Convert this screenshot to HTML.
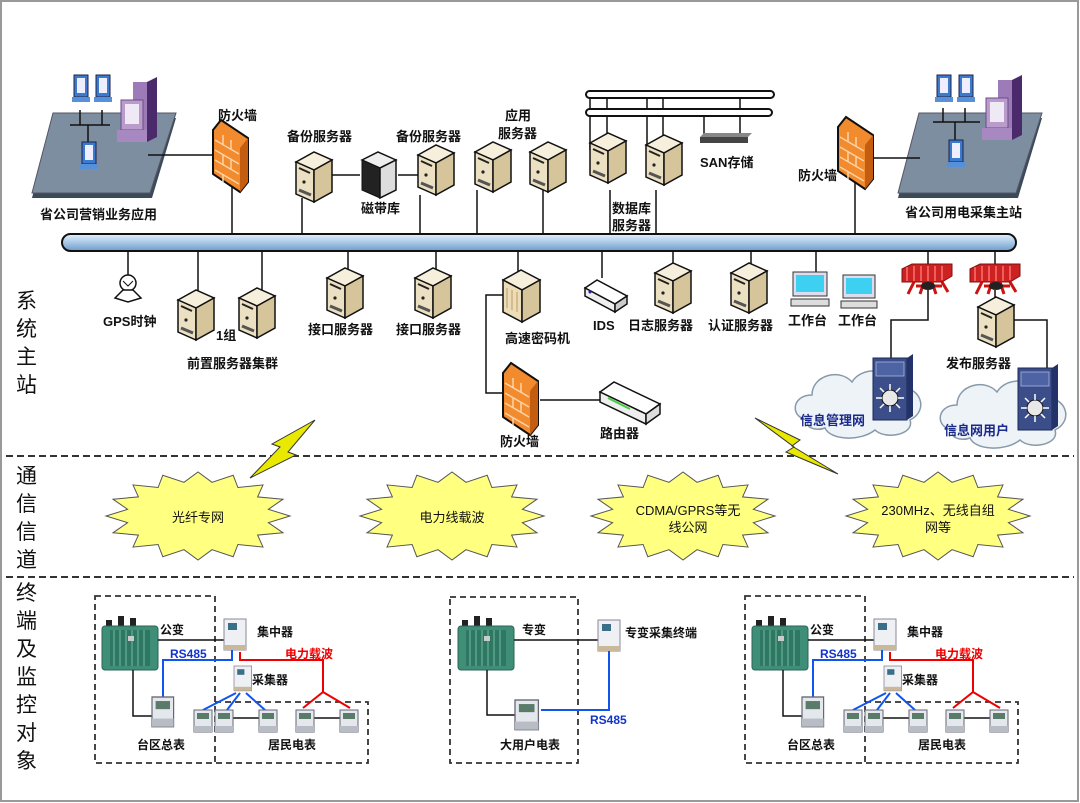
<!DOCTYPE html>
<html><head><meta charset="utf-8"><style>
html,body{margin:0;padding:0;background:#fff}
svg{display:block}
text{font-family:"Liberation Sans","Noto Sans CJK SC",sans-serif;font-size:13px;fill:#111}
.b{font-weight:bold}
.side{font-size:21px}
</style></head><body>
<svg width="1080" height="803" viewBox="0 0 1080 803" xmlns="http://www.w3.org/2000/svg">
<defs>
<linearGradient id="bus" x1="0" y1="0" x2="0" y2="1"><stop offset="0" stop-color="#e6f1fb"/><stop offset=".5" stop-color="#a8c8e8"/><stop offset="1" stop-color="#6f9cc8"/></linearGradient>
<polygon id="star" fill="#ffff80" stroke="#555" stroke-width="1" points="92,0 70.4,6.7 85,16.8 59.6,19.1 65,31.1 39.9,28.5 35.2,40.7 14,33.7 0,44 -14,33.7 -35.2,40.7 -39.9,28.5 -65,31.1 -59.6,19.1 -85,16.8 -70.4,6.7 -92,0 -70.4,-6.7 -85,-16.8 -59.6,-19.1 -65,-31.1 -39.9,-28.5 -35.2,-40.7 -14,-33.7 0,-44 14,-33.7 35.2,-40.7 39.9,-28.5 65,-31.1 59.6,-19.1 85,-16.8 70.4,-6.7"/>
<g id="srv">
<polygon points="0,10 18,0 36,8 18,18" fill="#f6efdc" stroke="#111" stroke-width="1.5"/>
<polygon points="0,10 18,18 18,50 0,42" fill="#ece0c2" stroke="#111" stroke-width="1.5"/>
<polygon points="18,18 36,8 36,40 18,50" fill="#d6c49a" stroke="#111" stroke-width="1.5"/>
<line x1="3" y1="16" x2="14" y2="21" stroke="#222" stroke-width="2"/>
<circle cx="8" cy="30" r="1.6" fill="#222"/>
<line x1="3" y1="38" x2="15" y2="43" stroke="#555" stroke-width="3"/>
</g>
<g id="fw">
<polygon points="0,10 8,0 35,18 35,62 27,72 0,54" fill="#f28a2e" stroke="#111" stroke-width="2"/>
<polygon points="27,28 35,18 35,62 27,72" fill="#c55d10"/>
<path d="M2,20 L26,34 M2,30 L26,44 M2,40 L26,54 M2,50 L26,64 M10,15 L10,25 M18,20 L18,30 M10,35 L10,45 M18,40 L18,50 M10,55 L10,62" stroke="#fcd3a6" stroke-width="1.5" fill="none"/>
</g>
<g id="meter">
<rect x="0" y="0" width="18" height="22" fill="#e4e8ec" stroke="#667" stroke-width="1"/>
<rect x="3" y="3" width="12" height="6" fill="#5a7a6a"/>
<rect x="0" y="16" width="18" height="6" fill="#b8bcc4"/>
</g>
<g id="trans">
<rect x="4" y="8" width="6" height="8" fill="#222"/><rect x="16" y="4" width="6" height="12" fill="#222"/><rect x="28" y="6" width="6" height="10" fill="#222"/>
<rect x="0" y="14" width="56" height="44" rx="3" fill="#3f8f78" stroke="#2b6655"/>
<rect x="8" y="18" width="40" height="36" fill="#2f7663"/>
<path d="M12,18v36M18,18v36M24,18v36M30,18v36M36,18v36M42,18v36" stroke="#5aa58c" stroke-width="1.5"/>
<rect x="26" y="24" width="6" height="5" fill="#ccc"/>
</g>
<g id="conc">
<rect x="0" y="0" width="22" height="31" fill="#eef0f3" stroke="#889"/>
<rect x="4" y="4" width="9" height="7" fill="#3a6f8a"/>
<rect x="0" y="26" width="22" height="5" fill="#c9b89a"/>
</g>
<g id="pf">
<polygon points="21,5 144,5 120,85 0,85" fill="#3b4a58"/>
<polygon points="21,0 144,0 118,80 0,80" fill="#7c8ea0" stroke="#556" stroke-width="1"/>
</g>
<g id="pc">
<rect x="0" y="0" width="14" height="22" fill="#3a7bd0" stroke="#224"/>
<rect x="3" y="3" width="8" height="15" fill="#eef"/>
<rect x="-2" y="22" width="18" height="5" fill="#5590d8"/>
</g>
<g id="tower">
<polygon points="14,0 24,-5 24,55 14,60" fill="#4a2a6a"/>
<rect x="0" y="0" width="14" height="60" fill="#9d7bb8"/>
<rect x="-12" y="18" width="22" height="30" fill="#b99ccc" stroke="#6c4d88"/>
<rect x="-8" y="22" width="14" height="20" fill="#efe8f5"/>
<rect x="-16" y="48" width="30" height="12" fill="#a888c0"/>
</g>
<g id="rfw">
<polygon points="0,5 10,0 50,0 50,12 40,18 0,18" fill="#cc2222" stroke="#801010"/>
<path d="M5,3v14M12,2v15M19,2v15M26,2v15M33,2v15M40,2v14" stroke="#ff7070" stroke-width="1.5"/>
<path d="M12,18 L6,30 M22,18 L18,30 M30,18 L34,30 M40,18 L46,28 M14,22 L40,22" stroke="#cc1111" stroke-width="3"/>
<ellipse cx="26" cy="22" rx="7" ry="4" fill="#222"/>
</g>
<g id="sw">
<rect x="0" y="0" width="34" height="62" fill="#3c4e8a" stroke="#1c2a5a"/>
<polygon points="34,0 40,-4 40,58 34,62" fill="#24326a"/>
<rect x="3" y="4" width="28" height="14" fill="#4d63a3" stroke="#a8b6e0" stroke-width=".8"/>
<circle cx="17" cy="40" r="8" fill="#e8e8e8" stroke="#111"/>
<path d="M17,26v6M17,48v6M3,40h6M25,40h6M7,30l4,4M27,30l-4,4M7,50l4,-4M27,50l-4,-4" stroke="#fff" stroke-width="1.5"/>
</g>
<g id="cloud"><path d="M20,60 C0,60 0,35 22,35 C22,15 50,8 62,22 C72,5 105,8 108,28 C130,25 140,50 120,60 C125,75 95,80 85,70 C70,82 40,80 35,68 C25,72 12,66 20,60 Z" fill="#eef3f8" stroke="#8899aa" stroke-width="1.5"/></g>
</defs>

<rect x="1" y="1" width="1077" height="800" fill="#fff" stroke="#999" stroke-width="2"/>

<!-- platforms -->
<use href="#pf" x="32" y="113"/>
<g stroke="#111" stroke-width="1.5"><line x1="70" y1="125" x2="110" y2="125"/><line x1="80" y1="110" x2="80" y2="125"/><line x1="102" y1="110" x2="102" y2="125"/><line x1="88" y1="125" x2="88" y2="148"/></g>
<use href="#pc" x="74" y="75"/><use href="#pc" x="96" y="75"/><use href="#pc" x="82" y="142"/>
<use href="#tower" x="133" y="82"/>
<text x="40" y="219" class="b">省公司营销业务应用</text>
<use href="#pf" x="898" y="113"/>
<g stroke="#111" stroke-width="1.5"><line x1="933" y1="122" x2="980" y2="122"/><line x1="943" y1="108" x2="943" y2="122"/><line x1="965" y1="108" x2="965" y2="122"/><line x1="955" y1="122" x2="955" y2="145"/></g>
<use href="#pc" x="937" y="75"/><use href="#pc" x="959" y="75"/><use href="#pc" x="949" y="140"/>
<use href="#tower" x="998" y="80"/>
<text x="905" y="217" class="b">省公司用电采集主站</text>

<!-- top connectors -->
<g stroke="#111" stroke-width="1.5" fill="none">
<path d="M148,155 H215"/><line x1="232" y1="185" x2="232" y2="236"/>
<line x1="873" y1="158" x2="920" y2="158"/><line x1="855" y1="175" x2="855" y2="236"/>
<line x1="302" y1="198" x2="302" y2="236"/><line x1="330" y1="175" x2="360" y2="175"/><line x1="398" y1="175" x2="420" y2="175"/>
<line x1="420" y1="195" x2="420" y2="236"/><line x1="477" y1="190" x2="477" y2="236"/><line x1="543" y1="190" x2="543" y2="236"/>
<line x1="590" y1="98" x2="590" y2="150"/><line x1="607" y1="98" x2="607" y2="150"/><line x1="647" y1="98" x2="647" y2="150"/><line x1="663" y1="98" x2="663" y2="150"/>
<line x1="704" y1="116" x2="704" y2="135"/><line x1="740" y1="98" x2="740" y2="135"/>
<line x1="610" y1="190" x2="610" y2="236"/><line x1="656" y1="190" x2="656" y2="236"/>
</g>
<rect x="586" y="91" width="188" height="7" rx="3.5" fill="#fff" stroke="#111" stroke-width="2"/>
<rect x="586" y="109" width="186" height="7" rx="3.5" fill="#fff" stroke="#111" stroke-width="2"/>
<polygon points="700,137 748,137 748,143 700,143" fill="#444"/><polygon points="704,133 752,133 748,137 700,137" fill="#888"/>
<text x="700" y="167" class="b">SAN存储</text>

<use href="#fw" x="213" y="120"/><text x="218" y="120" class="b">防火墙</text>
<use href="#fw" x="838" y="117"/><text x="798" y="180" class="b">防火墙</text>
<use href="#srv" x="296" y="152"/><text x="287" y="141" class="b">备份服务器</text>
<g transform="translate(362,152)"><polygon points="0,8 16,0 34,8 18,16" fill="#eee" stroke="#111" stroke-width="1.5"/><polygon points="0,8 18,16 18,46 0,38" fill="#222" stroke="#111"/><polygon points="18,16 34,8 34,38 18,46" fill="#ddd" stroke="#111" stroke-width="1.5"/></g>
<text x="361" y="213" class="b">磁带库</text>
<use href="#srv" x="418" y="145"/><text x="396" y="141" class="b">备份服务器</text>
<use href="#srv" x="475" y="142"/><use href="#srv" x="530" y="142"/>
<text x="505" y="120" class="b">应用</text><text x="498" y="138" class="b">服务器</text>
<use href="#srv" x="590" y="133"/><use href="#srv" x="646" y="135"/>
<text x="612" y="213" class="b">数据库</text><text x="612" y="230" class="b">服务器</text>

<!-- bus -->
<rect x="62" y="234" width="954" height="17" rx="8.5" fill="url(#bus)" stroke="#111" stroke-width="2"/>

<!-- below bus connectors -->
<g stroke="#111" stroke-width="1.5" fill="none">
<line x1="128" y1="251" x2="128" y2="275"/><line x1="198" y1="251" x2="198" y2="292"/><line x1="262" y1="251" x2="262" y2="290"/>
<line x1="348" y1="251" x2="348" y2="272"/><line x1="436" y1="251" x2="436" y2="272"/><line x1="518" y1="251" x2="518" y2="272"/>
<line x1="602" y1="251" x2="602" y2="278"/><line x1="673" y1="251" x2="673" y2="266"/><line x1="751" y1="251" x2="751" y2="266"/>
<line x1="816" y1="251" x2="816" y2="275"/><line x1="928" y1="251" x2="928" y2="268"/><line x1="995" y1="251" x2="995" y2="268"/>
<path d="M515,295 H486 V393 H505"/><line x1="540" y1="400" x2="600" y2="400"/>
<path d="M928,290 V320 H891 V358"/><path d="M995,290 V300"/><path d="M1010,320 H1047 V368"/>
</g>
<g transform="translate(115,272)"><circle cx="13" cy="11" r="8" fill="#fff" stroke="#111" stroke-width="1.5"/><polygon points="0,26 8,18 18,18 26,26 13,30" fill="#fff" stroke="#111" stroke-width="1.5"/><path d="M8,9 L13,14 L18,9" stroke="#111" fill="none"/></g>
<text x="103" y="326" class="b">GPS时钟</text>
<use href="#srv" x="178" y="290"/><use href="#srv" x="239" y="288"/>
<text x="216" y="340" class="b">1组</text><text x="187" y="368" class="b">前置服务器集群</text>
<use href="#srv" x="327" y="268"/><use href="#srv" x="415" y="268"/>
<text x="308" y="334" class="b">接口服务器</text><text x="396" y="334" class="b">接口服务器</text>
<g transform="translate(503,270)"><polygon points="0,10 18,0 37,10 19,20" fill="#f6efdc" stroke="#111" stroke-width="1.5"/><polygon points="0,10 19,20 19,52 0,42" fill="#ecdcb8" stroke="#111" stroke-width="1.5"/><polygon points="19,20 37,10 37,42 19,52" fill="#d6c49a" stroke="#111" stroke-width="1.5"/><path d="M4,18v20M9,20v20M14,22v20" stroke="#b89c68"/></g>
<text x="505" y="343" class="b">高速密码机</text>
<g transform="translate(585,278)"><polygon points="0,10 12,2 42,18 30,26" fill="#fff" stroke="#111" stroke-width="1.5"/><polygon points="0,10 30,26 30,34 0,18" fill="#eee" stroke="#111" stroke-width="1.5"/><polygon points="30,26 42,18 42,26 30,34" fill="#ccc" stroke="#111" stroke-width="1.5"/><circle cx="5" cy="14" r="1.5" fill="#22a"/></g>
<text x="593" y="330" class="b">IDS</text>
<use href="#srv" x="655" y="263"/><text x="628" y="330" class="b">日志服务器</text>
<use href="#srv" x="731" y="263"/><text x="708" y="330" class="b">认证服务器</text>
<g transform="translate(793,272)"><rect x="0" y="0" width="34" height="24" fill="#dde" stroke="#333"/><rect x="3" y="3" width="28" height="17" fill="#3ed0f0"/><rect x="-2" y="27" width="38" height="7" fill="#ddd" stroke="#333"/></g>
<g transform="translate(843,275)"><rect x="0" y="0" width="32" height="23" fill="#dde" stroke="#333"/><rect x="3" y="3" width="26" height="16" fill="#3ed0f0"/><rect x="-2" y="26" width="36" height="7" fill="#ddd" stroke="#333"/></g>
<text x="788" y="325" class="b">工作台</text><text x="838" y="325" class="b">工作台</text>
<use href="#rfw" x="902" y="264"/><use href="#rfw" x="970" y="264"/>
<use href="#srv" x="978" y="297"/><text x="946" y="368" class="b">发布服务器</text>
<use href="#cloud" x="790" y="360"/><use href="#cloud" x="935" y="370"/>
<use href="#sw" x="873" y="358"/><use href="#sw" x="1018" y="368"/>
<text x="800" y="425" class="b" style="fill:#1a2a8a">信息管理网</text>
<text x="944" y="435" class="b" style="fill:#1a2a8a">信息网用户</text>
<use href="#fw" x="503" y="363"/><text x="500" y="446" class="b">防火墙</text>
<g transform="translate(600,380)"><polygon points="0,12 14,2 60,24 46,34" fill="#fff" stroke="#111" stroke-width="1.5"/><polygon points="0,12 46,34 46,44 0,22" fill="#eee" stroke="#111" stroke-width="1.5"/><polygon points="46,34 60,24 60,34 46,44" fill="#ddd" stroke="#111" stroke-width="1.5"/><path d="M8,18 L30,29" stroke="#4c4" stroke-width="2"/></g>
<text x="600" y="438" class="b">路由器</text>

<!-- dashed separators -->
<line x1="6" y1="456" x2="1074" y2="456" stroke="#333" stroke-width="2" stroke-dasharray="7,4"/>
<line x1="6" y1="577" x2="1074" y2="577" stroke="#333" stroke-width="2" stroke-dasharray="7,4"/>

<!-- side labels -->
<text x="16" y="308" class="side">系</text><text x="16" y="336" class="side">统</text><text x="16" y="364" class="side">主</text><text x="16" y="392" class="side">站</text>
<text x="16" y="483" class="side">通</text><text x="16" y="511" class="side">信</text><text x="16" y="539" class="side">信</text><text x="16" y="567" class="side">道</text>
<text x="16" y="600" class="side">终</text><text x="16" y="628" class="side">端</text><text x="16" y="656" class="side">及</text><text x="16" y="684" class="side">监</text><text x="16" y="712" class="side">控</text><text x="16" y="740" class="side">对</text><text x="16" y="768" class="side">象</text>

<!-- stars -->
<use href="#star" x="198" y="516"/>
<use href="#star" x="452" y="516"/>
<use href="#star" x="683" y="516"/>
<use href="#star" x="938" y="516"/>
<text x="198" y="522" text-anchor="middle">光纤专网</text>
<text x="452" y="522" text-anchor="middle">电力线载波</text>
<text x="688" y="515" text-anchor="middle">CDMA/GPRS等无</text><text x="688" y="532" text-anchor="middle">线公网</text>
<text x="938" y="515" text-anchor="middle">230MHz、无线自组</text><text x="938" y="532" text-anchor="middle">网等</text>

<!-- lightning -->
<polygon points="250,478 280,447 272,444 315,420 288,452 296,455" fill="#e8e800" stroke="#333" stroke-width="1"/>
<polygon points="755,418 800,440 792,446 838,474 786,452 794,447" fill="#e8e800" stroke="#333" stroke-width="1"/>

<!-- bottom groups -->
<g id="grp">
<rect x="95" y="596" width="120" height="167" fill="none" stroke="#333" stroke-width="1.8" stroke-dasharray="6,4"/>
<path d="M215,702 H368 V763 H215" fill="none" stroke="#333" stroke-width="1.8" stroke-dasharray="6,4"/>
<use href="#trans" x="102" y="612"/>
<text x="160" y="634" class="b" style="font-size:12px">公变</text>
<line x1="158" y1="640" x2="224" y2="640" stroke="#111" stroke-width="1.5"/>
<path d="M133,670 V716 H152" fill="none" stroke="#111" stroke-width="1.5"/>
<use href="#conc" x="224" y="619"/><text x="257" y="636" class="b" style="font-size:12px">集中器</text>
<path d="M232,650 V660 H163 V700" fill="none" stroke="#1155ee" stroke-width="2"/>
<text x="170" y="658" class="b" style="fill:#1133cc;font-size:12px">RS485</text>
<path d="M240,652 V660 H323 V692 L303,708 M323,692 L350,708" fill="none" stroke="#e00" stroke-width="2"/>
<text x="285" y="658" class="b" style="fill:#e00;font-size:12px">电力载波</text>
<g transform="translate(234,666) scale(0.8)"><use href="#conc"/></g>
<text x="252" y="684" class="b" style="font-size:12px">采集器</text>
<path d="M236,693 L203,710 M240,693 L227,710 M246,693 L265,710" stroke="#1155ee" stroke-width="2"/>
<path d="M232,718 H259 M313,718 H340" stroke="#111" stroke-width="1.5"/>
<g transform="translate(152,697) scale(1.2,1.35)"><use href="#meter"/></g>
<use href="#meter" x="194" y="710"/><use href="#meter" x="215" y="710"/><use href="#meter" x="259" y="710"/><use href="#meter" x="296" y="710"/><use href="#meter" x="340" y="710"/>
<text x="137" y="749" class="b" style="font-size:12px">台区总表</text>
<text x="268" y="749" class="b" style="font-size:12px">居民电表</text>
</g>
<use href="#grp" x="650" y="0"/>

<rect x="450" y="597" width="128" height="166" fill="none" stroke="#333" stroke-width="1.8" stroke-dasharray="6,4"/>
<use href="#trans" x="458" y="612"/>
<text x="522" y="634" class="b" style="font-size:12px">专变</text>
<line x1="514" y1="640" x2="598" y2="640" stroke="#111" stroke-width="1.5"/>
<path d="M487,670 V715 H515" fill="none" stroke="#111" stroke-width="1.5"/>
<use href="#conc" x="598" y="620"/>
<text x="625" y="637" class="b" style="font-size:12px">专变采集终端</text>
<path d="M609,651 V710 H541" fill="none" stroke="#1155ee" stroke-width="2"/>
<text x="590" y="724" class="b" style="fill:#1133cc;font-size:12px">RS485</text>
<g transform="translate(515,700) scale(1.3,1.35)"><use href="#meter"/></g>
<text x="500" y="749" class="b" style="font-size:12px">大用户电表</text>
</svg>
</body></html>
